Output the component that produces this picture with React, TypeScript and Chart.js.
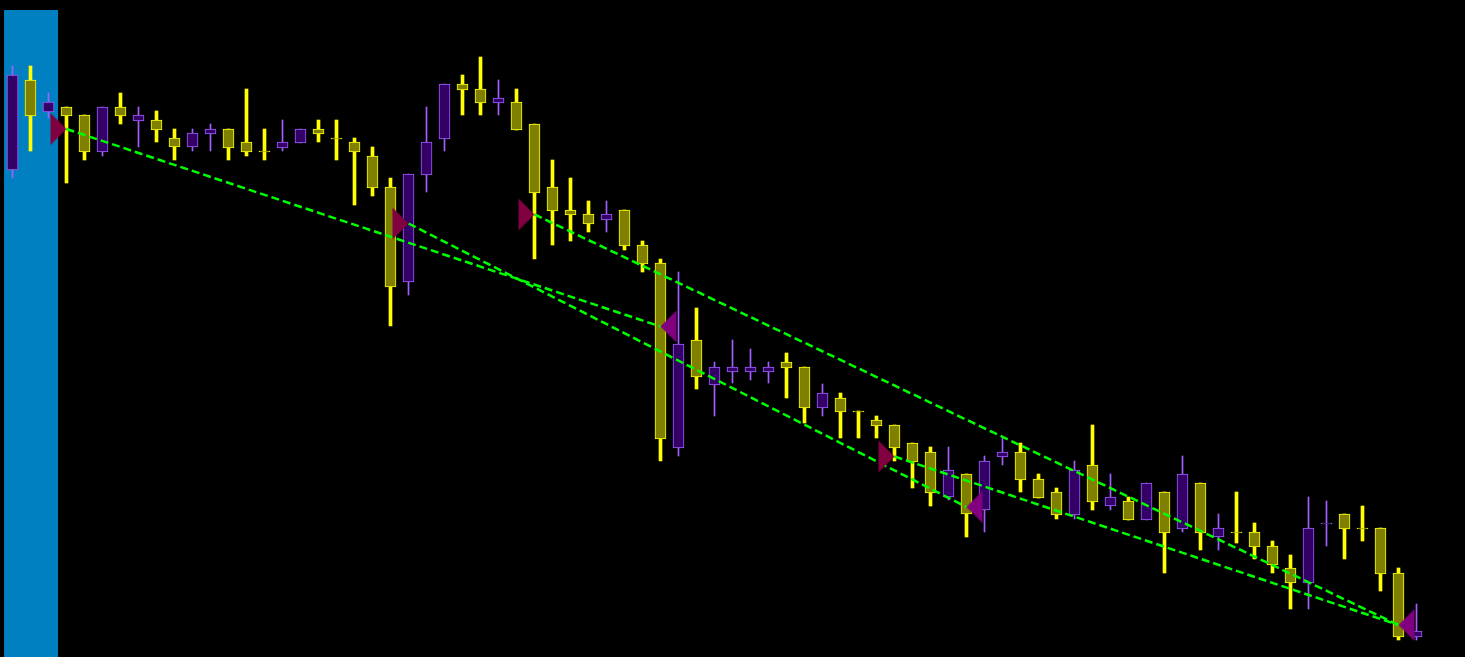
import { useEffect, useRef } from 'react';
import { Chart, registerables } from 'chart.js';

Chart.register(...registerables);

// Candle OHLC values (price units)
const opens = [487, 577, 545, 550, 542, 505, 550, 536, 537, 519, 510, 523, 528, 515, 506, 509, 514, 528, 519, 515, 501, 470, 375, 482, 518, 573, 568, 554, 555, 533, 470, 447, 443, 437, 447, 412, 394, 209, 317, 272, 285, 285, 285, 295, 290, 249, 259, 246, 237, 232, 214, 205, 160, 183, 147, 200, 205, 178, 165, 142, 192, 151, 156, 137, 165, 128, 174, 120, 125, 125, 111, 89, 74, 133, 143, 129, 129, 84, 20];
const highs = [591, 591, 564, 550, 542, 550, 564, 550, 546, 528, 528, 533, 528, 568, 528, 537, 528, 537, 537, 519, 510, 479, 483, 550, 573, 582, 600, 577, 568, 533, 497, 479, 456, 456, 447, 416, 398, 385, 349, 295, 317, 308, 295, 304, 290, 273, 264, 246, 241, 232, 214, 210, 210, 183, 201, 219, 214, 183, 169, 196, 232, 183, 160, 174, 165, 201, 174, 143, 165, 134, 116, 102, 160, 156, 143, 151, 129, 89, 53];
const lows = [479, 506, 539, 474, 497, 501, 533, 510, 515, 497, 506, 506, 497, 501, 497, 506, 514, 515, 497, 452, 461, 331, 362, 465, 506, 542, 542, 542, 527, 398, 412, 416, 425, 425, 407, 385, 196, 201, 268, 241, 274, 277, 274, 259, 234, 241, 219, 219, 219, 196, 169, 151, 157, 120, 125, 192, 165, 159, 138, 138, 147, 147, 137, 137, 84, 125, 107, 107, 114, 98, 84, 48, 48, 111, 98, 116, 66, 17, 17];
const closes = [582, 541, 555, 541, 505, 550, 541, 542, 527, 510, 524, 528, 509, 505, 505, 515, 528, 523, 518, 505, 469, 370, 483, 515, 573, 567, 554, 559, 527, 464, 446, 442, 433, 443, 411, 393, 218, 313, 280, 290, 290, 290, 290, 289, 249, 264, 245, 245, 231, 209, 195, 164, 187, 143, 196, 205, 177, 159, 142, 187, 155, 160, 137, 174, 124, 183, 124, 129, 124, 110, 92, 74, 129, 134, 128, 128, 83, 20, 26];

// Signal markers (candle index, price)
const rightMarkIdx = [3, 22, 29, 49];
const rightMarkPrice = [528, 433.5, 442.5, 200.5];
const leftMarkIdx = [36, 53, 77];
const leftMarkPrice = [330.5, 150, 32];

// Trend lines between markers
const lineStartIdx = [3, 22, 29, 49];
const lineStartPrice = [528, 433.5, 442.5, 200.5];
const lineEndIdx = [36, 53, 77, 77];
const lineEndPrice = [330.5, 150, 32, 32];

// Highlighted zone (index range, top price)
const highlightFrom = -0.47;
const highlightTo = 2.53;
const highlightTop = 647;

const W = 1465;
const H = 657;
const xMin = -12.5 / 18;
const xMax = xMin + W / 18;

function makeTriangle(color: string, pointRight: boolean): HTMLCanvasElement {
  const c = document.createElement('canvas');
  c.width = 34;
  c.height = 33;
  const g = c.getContext('2d')!;
  g.fillStyle = color;
  g.beginPath();
  if (pointRight) {
    g.moveTo(1, 0.5);
    g.lineTo(17, 16.5);
    g.lineTo(1, 32.5);
  } else {
    g.moveTo(33, 0.5);
    g.lineTo(17, 16.5);
    g.lineTo(33, 32.5);
  }
  g.closePath();
  g.fill();
  return c;
}

export default function App() {
  const ref = useRef<HTMLCanvasElement | null>(null);

  useEffect(() => {
    if (!ref.current) return;
    const idx = opens.map((_, i) => i);
    const isDown = idx.map((i) => closes[i] < opens[i]);

    const bodies = idx.map((i) => ({ x: i, y: [opens[i], closes[i]] }));
    const wicksDown = idx.filter((i) => isDown[i]).map((i) => ({ x: i, y: [lows[i], highs[i]] }));
    const wicksUp = idx.filter((i) => !isDown[i]).map((i) => ({ x: i, y: [lows[i], highs[i]] }));

    const rightImg = makeTriangle('#800040', true);
    const leftImg = makeTriangle('#800080', false);

    const lineSets = lineStartIdx.map((s, k) => ({
      type: 'line' as const,
      data: [
        { x: s, y: lineStartPrice[k] },
        { x: lineEndIdx[k], y: lineEndPrice[k] },
      ],
      borderColor: '#00ff00',
      borderWidth: 2.5,
      borderDash: [8, 4],
      pointRadius: 0,
      fill: false,
    }));

    const bgPlugin = {
      id: 'bg',
      beforeDraw(chart: any) {
        const { ctx } = chart;
        ctx.save();
        ctx.fillStyle = '#000000';
        ctx.fillRect(0, 0, chart.width, chart.height);
        ctx.restore();
      },
      beforeDatasetsDraw(chart: any) {
        const { ctx, scales } = chart;
        const x0 = scales.x.getPixelForValue(highlightFrom);
        const x1 = scales.x.getPixelForValue(highlightTo);
        const y0 = scales.y.getPixelForValue(highlightTop);
        const y1 = scales.y.getPixelForValue(0);
        ctx.save();
        ctx.fillStyle = '#0080c0';
        ctx.fillRect(x0, y0, x1 - x0, y1 - y0);
        ctx.restore();
      },
    };

    const chart = new Chart(ref.current, {
      type: 'bar',
      data: {
        datasets: [
          {
            type: 'line',
            data: rightMarkIdx.map((i, k) => ({ x: i, y: rightMarkPrice[k] })),
            showLine: false,
            pointStyle: rightImg,
            pointRadius: 10,
            clip: false,
          } as any,
          {
            type: 'line',
            data: leftMarkIdx.map((i, k) => ({ x: i, y: leftMarkPrice[k] })),
            showLine: false,
            pointStyle: leftImg,
            pointRadius: 10,
            clip: false,
          } as any,
          ...lineSets,
          {
            type: 'bar',
            data: bodies,
            grouped: false,
            barPercentage: 1,
            categoryPercentage: 1,
            maxBarThickness: 11,
            backgroundColor: isDown.map((d) => (d ? '#808000' : '#330066')),
            borderColor: isDown.map((d) => (d ? '#ffff00' : '#a060ff')),
            borderWidth: 1,
            borderSkipped: false,
          } as any,
          {
            type: 'bar',
            data: wicksDown,
            grouped: false,
            barPercentage: 1,
            categoryPercentage: 1,
            maxBarThickness: 3,
            backgroundColor: '#ffff00',
            borderWidth: 0,
          } as any,
          {
            type: 'bar',
            data: wicksUp,
            grouped: false,
            barPercentage: 1,
            categoryPercentage: 1,
            maxBarThickness: 1,
            backgroundColor: '#a060ff',
            borderWidth: 0,
          } as any,
        ],
      },
      options: {
        animation: false,
        responsive: false,
        events: [],
        layout: { padding: 0, autoPadding: false },
        plugins: { legend: { display: false }, tooltip: { enabled: false } },
        scales: {
          x: { type: 'linear', min: xMin, max: xMax, display: false, offset: false },
          y: { type: 'linear', min: 0, max: H, display: false },
        },
      } as any,
      plugins: [bgPlugin],
    });
    return () => chart.destroy();
  }, []);

  return (
    <div style={{ position: 'fixed', left: 0, top: 0, width: W, height: H, background: '#000' }}>
      <canvas ref={ref} width={W} height={H} style={{ display: 'block' }} />
    </div>
  );
}
